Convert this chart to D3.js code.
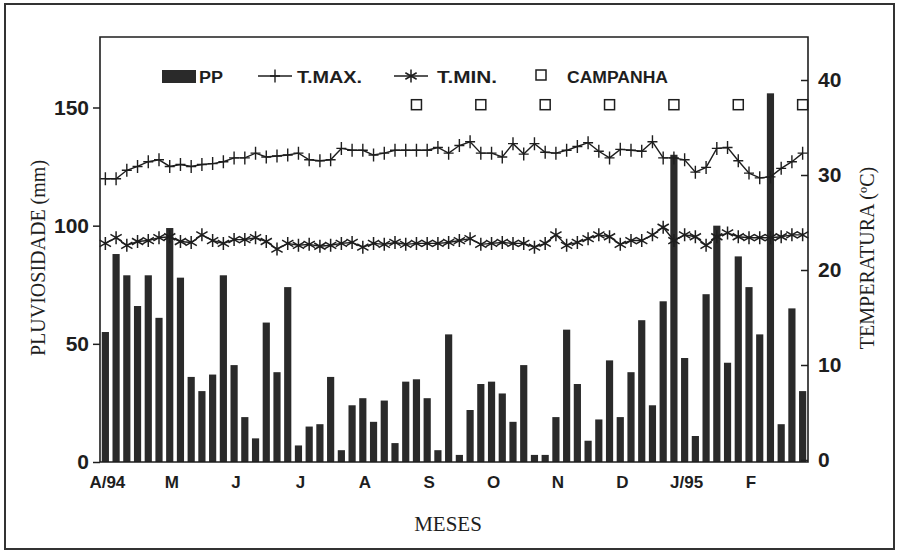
<!DOCTYPE html>
<html><head><meta charset="utf-8">
<script src="https://cdn.jsdelivr.net/npm/d3@7"></script>
<style>body{margin:0;background:#fff}svg{display:block}</style>
</head><body><svg id="c" width="900" height="557"></svg>
<script>
// ---- data (pentads, April 1994 - February 1995) ----
const periods = d3.range(1, 67);
const pp = [55,88,79,66,79,61,99,78,36,30,37,79,41,19,10,59,38,74,7,15,16,36,5,24,27,17,26,8,34,35,27,5,54,3,22,33,34,29,17,41,3,3,19,56,33,9,18,43,19,38,60,24,68,130,44,11,71,100,42,87,74,54,156,16,65,30];
const tMax = [29.6,29.6,30.5,30.9,31.4,31.6,30.9,31.1,30.9,31.1,31.2,31.4,31.8,31.8,32.3,31.9,32.0,32.1,32.3,31.6,31.5,31.6,32.8,32.6,32.6,32.1,32.3,32.6,32.6,32.6,32.6,32.9,32.3,33.1,33.5,32.3,32.3,31.9,33.3,32.2,33.3,32.4,32.3,32.6,33.0,33.4,32.5,31.8,32.7,32.6,32.5,33.5,31.8,31.8,31.6,30.3,30.8,32.8,32.9,31.5,30.2,29.7,29.8,30.7,31.4,32.3];
const tMin = [22.8,23.4,22.6,23.0,23.1,23.4,23.5,23.0,22.9,23.7,23.1,22.8,23.2,23.2,23.4,23.0,22.2,22.8,22.6,22.7,22.5,22.6,22.8,22.9,22.4,22.8,22.7,22.9,22.7,22.8,22.8,22.8,22.9,23.1,23.3,22.7,22.8,22.9,22.8,22.8,22.4,22.8,23.7,22.6,22.9,23.3,23.7,23.5,22.7,23.1,23.1,23.7,24.5,23.1,23.7,23.5,22.6,23.5,23.9,23.5,23.4,23.4,23.4,23.5,23.7,23.7];
const campanhaPeriods = [30,36,42,48,54,60,66];
const campanhaLevel = 37.4;
const monthLabels = ["A/94","M","J","J","A","S","O","N","D","J/95","F"];
const monthStartPeriods = [1,7,13,19,25,31,37,43,49,55,61];
const ppTicks = [0,50,100,150];
const tempTicks = [0,10,20,30,40];

// ---- layout ----
const svg = d3.select("#c");
const L = 100, R = 808, T = 37, B = 462;
const ink = "#1e1e1e";
const sans = "'Liberation Sans', Arial, Helvetica, sans-serif";
const serif = "'Liberation Serif', 'Times New Roman', serif";

svg.append("rect").attr("width",900).attr("height",557).attr("fill","#fff");
// outer figure frame
svg.append("rect").attr("x",5).attr("y",4).attr("width",889).attr("height",545)
  .attr("fill","none").attr("stroke","#333").attr("stroke-width",2);

const x = d3.scaleBand().domain(periods).range([L, R]).paddingInner(0.33).paddingOuter(0.165);
const cx = p => x(p) + x.bandwidth()/2;
const yL = d3.scaleLinear().domain([0,150]).range([B, 107.5]);
const yR = d3.scaleLinear().domain([0,40]).range([460, 80]);

// bars
svg.append("g").selectAll("rect").data(periods).join("rect")
  .attr("x", p => x(p)).attr("width", x.bandwidth())
  .attr("y", (p,i) => yL(pp[i])).attr("height", (p,i) => yL(0) - yL(pp[i]))
  .attr("fill", "#2a2a2a");

// frame
svg.append("path").attr("d", `M${L},${B}V${T}H${R}V${B}H${L}`)
  .attr("fill","none").attr("stroke",ink).attr("stroke-width",1.6);

// left axis
const gl = svg.append("g").attr("transform",`translate(${L},0)`)
  .call(d3.axisLeft(yL).tickValues(ppTicks).tickSize(7).tickPadding(4).tickFormat(d3.format("d")));
gl.select(".domain").remove();
gl.selectAll("line").attr("stroke",ink).attr("stroke-width",1.5);
gl.selectAll("text").attr("font-family",sans).attr("font-weight","bold").attr("font-size",21).attr("fill",ink);

// right axis (ticks inward)
const gr = svg.append("g").attr("transform",`translate(${R},0)`)
  .call(d3.axisRight(yR).tickValues(tempTicks).tickSizeInner(-7).tickSizeOuter(0).tickPadding(10).tickFormat(d3.format("d")));
gr.select(".domain").remove();
gr.selectAll("line").attr("stroke",ink).attr("stroke-width",1.5);
gr.selectAll("text").attr("font-family",sans).attr("font-weight","bold").attr("font-size",21).attr("fill",ink);

// bottom axis (month labels)
const gb = svg.append("g").attr("transform",`translate(0,${B})`)
  .call(d3.axisBottom(x).tickValues(monthStartPeriods).tickSize(0).tickPadding(14)
    .tickFormat(p => monthLabels[monthStartPeriods.indexOf(p)]));
gb.select(".domain").remove();
gb.selectAll("text").attr("font-family",sans).attr("font-weight","bold").attr("font-size",17).attr("fill",ink)
  .attr("dx", 2);

// line generators
const lineT = d3.line().x((d,i) => cx(periods[i])).y(d => yR(d));
const plusPath = "M-5,0H5M0,-6.5V6.5";
const r = 6.5, u = r*Math.sqrt(3)/2, t = r/2;
const starPath = `M0,${-r}V${r}M${-u},${-t}L${u},${t}M${-u},${t}L${u},${-t}`;

// T.MAX
svg.append("path").attr("d", lineT(tMax)).attr("fill","none").attr("stroke",ink).attr("stroke-width",1.4);
svg.append("g").selectAll("path").data(tMax).join("path")
  .attr("transform",(d,i)=>`translate(${cx(periods[i])},${yR(d)})`)
  .attr("d",plusPath).attr("stroke",ink).attr("stroke-width",1.4).attr("fill","none");

// T.MIN
svg.append("path").attr("d", lineT(tMin)).attr("fill","none").attr("stroke",ink).attr("stroke-width",1.4);
svg.append("g").selectAll("path").data(tMin).join("path")
  .attr("transform",(d,i)=>`translate(${cx(periods[i])},${yR(d)})`)
  .attr("d",starPath).attr("stroke",ink).attr("stroke-width",1.5).attr("fill","none");

// CAMPANHA squares
svg.append("g").selectAll("rect").data(campanhaPeriods).join("rect")
  .attr("x", p => cx(p) - 5).attr("y", yR(campanhaLevel) - 5)
  .attr("width",10).attr("height",10)
  .attr("fill","none").attr("stroke",ink).attr("stroke-width",1.5);

// legend
const lg = svg.append("g");
const ly = 76;
lg.append("rect").attr("x",162).attr("y",70).attr("width",34).attr("height",13).attr("fill","#2a2a2a");
const ltext = (xx, s, w) => lg.append("text").attr("x",xx).attr("y",ly+7).text(s)
  .attr("font-family",sans).attr("font-weight","bold").attr("font-size",16).attr("fill",ink)
  .attr("textLength",w).attr("lengthAdjust","spacingAndGlyphs");
ltext(199,"PP",24);
lg.append("path").attr("d",`M258,${ly}H292`).attr("stroke",ink).attr("stroke-width",1.4);
lg.append("path").attr("transform",`translate(275,${ly})`).attr("d",plusPath).attr("stroke",ink).attr("stroke-width",1.4);
ltext(297,"T.MAX.",65);
lg.append("path").attr("d",`M394,${ly}H428`).attr("stroke",ink).attr("stroke-width",1.4);
lg.append("path").attr("transform",`translate(411,${ly})`).attr("d",starPath).attr("stroke",ink).attr("stroke-width",1.5);
ltext(437,"T.MIN.",60);
lg.append("rect").attr("x",536).attr("y",ly-6).attr("width",10).attr("height",10)
  .attr("fill","none").attr("stroke",ink).attr("stroke-width",1.5);
ltext(567,"CAMPANHA",101);

// axis titles
svg.append("text").attr("transform","translate(45,258) rotate(-90)").attr("text-anchor","middle")
  .attr("font-family",serif).attr("font-size",20).attr("fill",ink).text("PLUVIOSIDADE (mm)");
svg.append("text").attr("transform","translate(874,258) rotate(-90)").attr("text-anchor","middle")
  .attr("font-family",serif).attr("font-size",20).attr("fill",ink).text("TEMPERATURA (ºC)");
svg.append("text").attr("x",448).attr("y",531).attr("text-anchor","middle")
  .attr("font-family",serif).attr("font-size",21).attr("fill",ink).text("MESES");
</script></body></html>
